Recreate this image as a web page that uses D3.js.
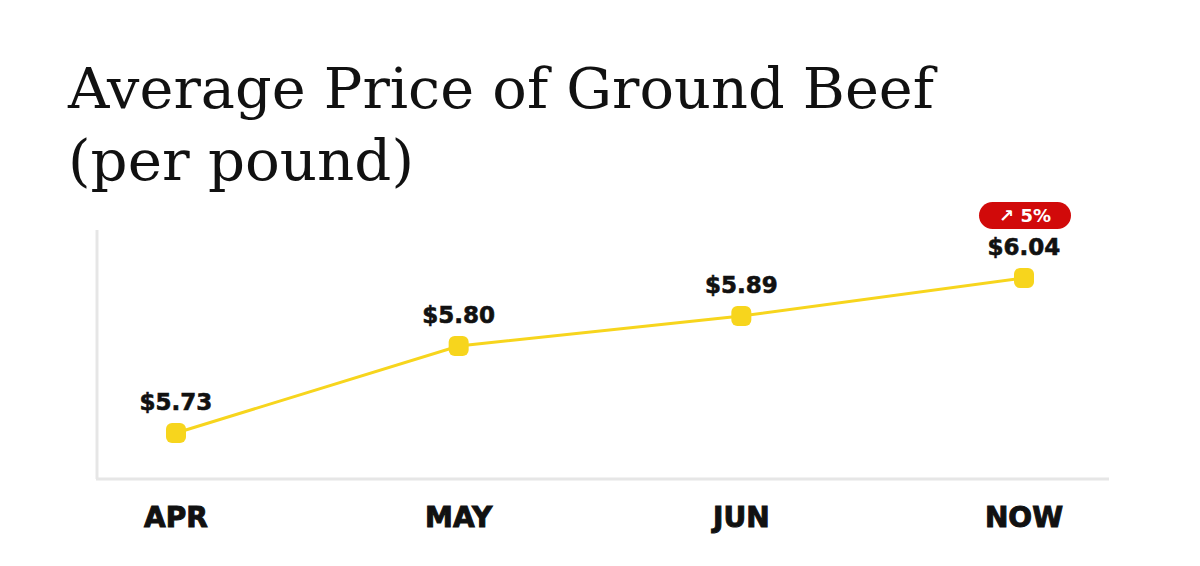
<!DOCTYPE html>
<html><head><meta charset="utf-8">
<script src="https://cdn.jsdelivr.net/npm/d3@7"></script>
<style>body{margin:0;background:#fff}</style>
</head><body><div id="chart"></div>
<script>
const months = ['APR', 'MAY', 'JUN', 'NOW']
const prices = [5.73, 5.80, 5.89, 6.04]
const change = '5%'

const svg = d3.select('#chart').append('svg')
  .attr('width', 1200).attr('height', 566)

svg.append('text').attr('x', 68).attr('y', 108)
  .attr('font-family', 'DejaVu Serif').attr('font-size', 56).attr('fill', '#111')
  .attr('textLength', 866).attr('lengthAdjust', 'spacingAndGlyphs')
  .text('Average Price of Ground Beef')
svg.append('text').attr('x', 68).attr('y', 180)
  .attr('font-family', 'DejaVu Serif').attr('font-size', 56).attr('fill', '#111')
  .attr('textLength', 346).attr('lengthAdjust', 'spacingAndGlyphs')
  .text('(per pound)')

const x = d3.scalePoint().domain(months).range([176, 1024])
// the source chart is not linearly spaced, so map through its own stops
const y = d3.scaleLinear().domain(prices).range([433, 346, 316, 278])

// axes
svg.append('line').attr('x1', 97).attr('x2', 97).attr('y1', 230).attr('y2', 479)
  .attr('stroke', '#e6e6e6').attr('stroke-width', 3)
svg.append('line').attr('x1', 96).attr('x2', 1109).attr('y1', 479).attr('y2', 479)
  .attr('stroke', '#e6e6e6').attr('stroke-width', 3)

svg.selectAll('.xl').data(months).join('text')
  .attr('x', d => x(d)).attr('y', 527).attr('text-anchor', 'middle')
  .attr('font-family', 'DejaVu Sans').attr('font-weight', 'bold').attr('font-size', 28)
  .attr('fill', '#111').attr('stroke', '#111').attr('stroke-width', 1)
  .text(d => d)

const pts = months.map((m, i) => [x(m), y(prices[i])])
svg.append('path').attr('d', d3.line()(pts))
  .attr('fill', 'none').attr('stroke', '#f7d51d').attr('stroke-width', 3)

svg.selectAll('.pt').data(pts).join('rect')
  .attr('x', d => d[0] - 10).attr('y', d => d[1] - 10)
  .attr('width', 20).attr('height', 20).attr('rx', 6)
  .attr('fill', '#f7d51d')

svg.selectAll('.vl').data(prices).join('text')
  .attr('x', (d, i) => x(months[i])).attr('y', d => y(d) - 23)
  .attr('text-anchor', 'middle')
  .attr('font-family', 'DejaVu Sans').attr('font-weight', 'bold').attr('font-size', 23)
  .attr('fill', '#111').attr('stroke', '#111').attr('stroke-width', 0.6)
  .text(d => '$' + d.toFixed(2))

// change badge
const last = months.length - 1
const bx = x(months[last]), by = y(prices[last]) - 63
svg.append('rect').attr('x', bx - 45).attr('y', by - 13).attr('width', 92).attr('height', 27)
  .attr('rx', 13.5).attr('fill', '#d10a0a')
svg.append('text').attr('x', bx + 1).attr('y', by + 7).attr('text-anchor', 'middle')
  .attr('font-family', 'DejaVu Sans').attr('font-weight', 'bold').attr('font-size', 18)
  .attr('fill', '#fff').text('↗ ' + change)
</script></body></html>
